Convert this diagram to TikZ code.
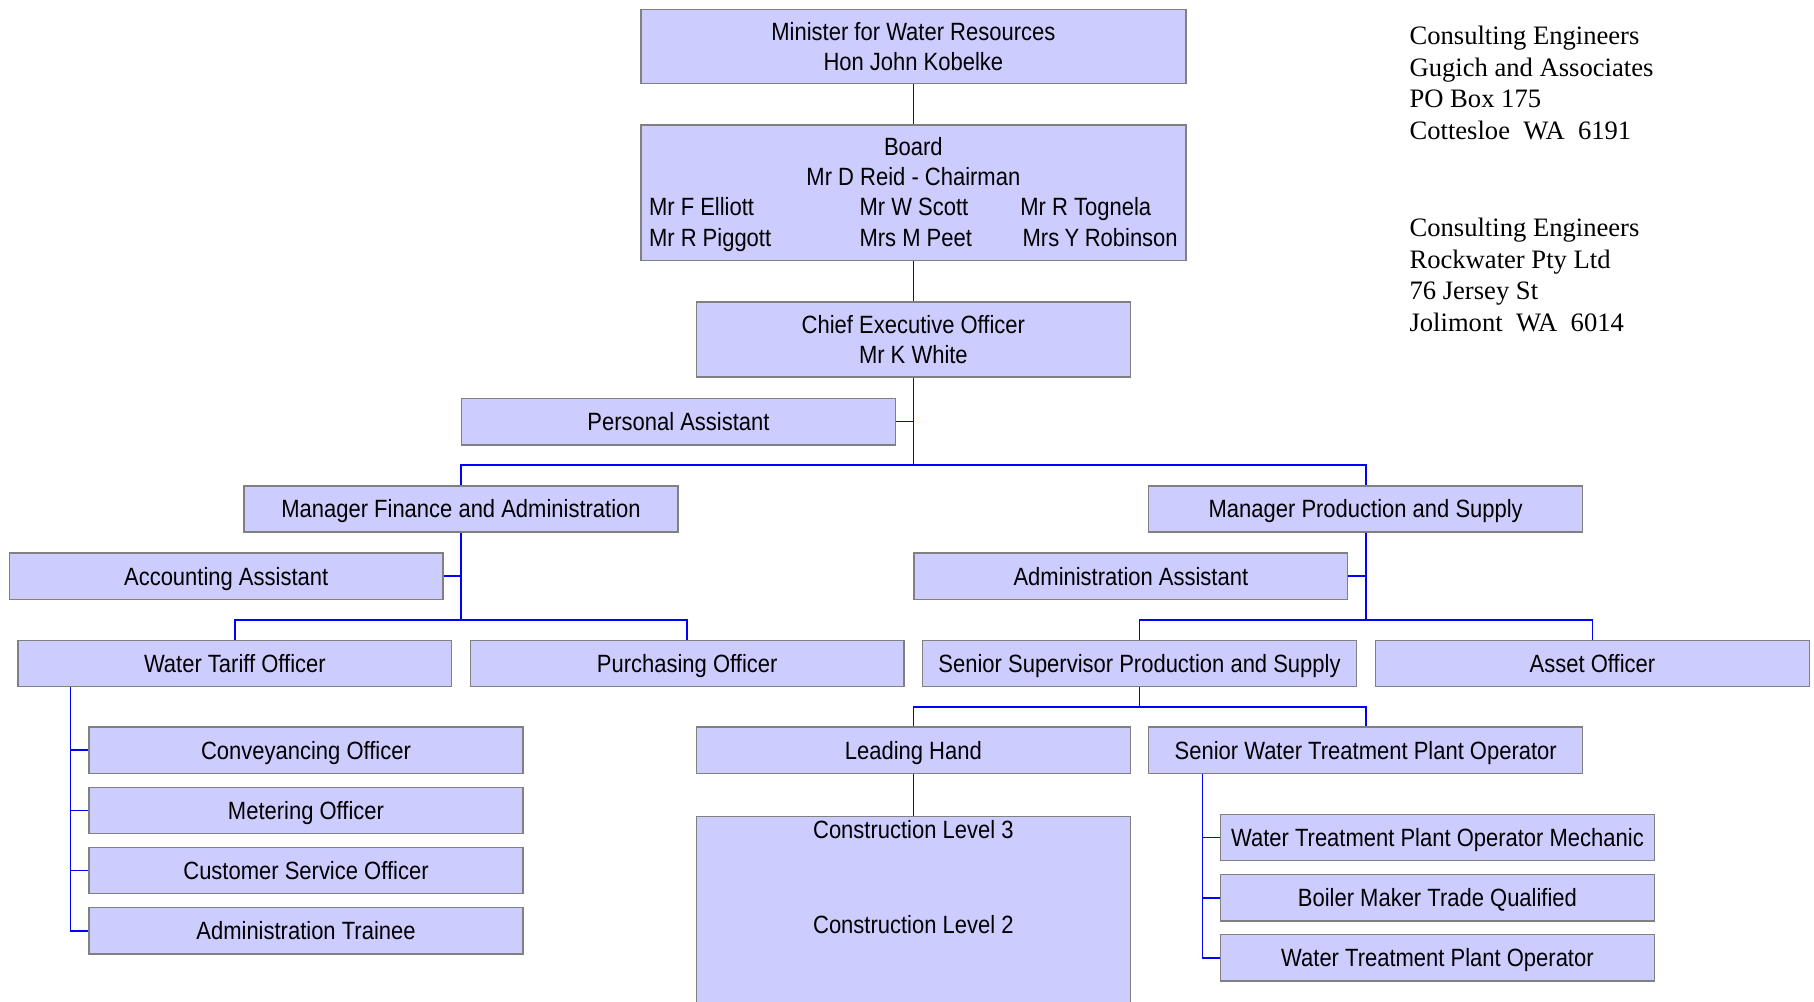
\documentclass[tikz,border=0pt]{standalone}
\usepackage{fontspec}
\setmainfont{Liberation Serif}
\newfontfamily\boxfont[FakeStretch=0.88]{Liberation Sans}
\definecolor{boxfill}{HTML}{CCCCFF}
\definecolor{boxline}{HTML}{808080}
\definecolor{linkblue}{HTML}{0000FF}
\begin{document}
\begin{tikzpicture}[x=0.5pt,y=-0.5pt,
		box/.style={draw=boxline,fill=boxfill,line width=0.6pt,inner sep=0pt,
			minimum width=187.5pt,minimum height=20pt,align=center,
			font=\boxfont\fontsize{10.8pt}{13pt}\selectfont},
		role/.style={box,text height=9pt,text depth=1.26pt},
		link/.style={draw=linkblue,line width=0.7pt},
		txt/.style={inner sep=0pt,text height=9pt,text depth=1.26pt,font=\boxfont\fontsize{10.8pt}{13pt}\selectfont},
		addr/.style={anchor=north west,inner sep=0pt,align=left,font=\fontsize{11.5pt}{13.7pt}\selectfont}]
			\useasboundingbox (0,0) rectangle (1568,866);
			\clip (0,0) rectangle (1568,866);

			\node[box,minimum width=235.5pt,minimum height=32pt] (minister) at (789.5, 40  ) {Minister for Water Resources\\Hon John Kobelke};
			\node[box,minimum width=235.5pt,minimum height=58.5pt] (board) at (789.5,166.5) {};
			\node[inner sep=0pt,font=\boxfont\fontsize{10.8pt}{13pt}\selectfont] (boardtxt) at (789.5,168.5) {%
				\begin{tabular}{@{}p{91pt}@{}p{69pt}@{}p{68.5pt}@{}}
					\multicolumn{3}{@{}c@{}}{Board}\\
					\multicolumn{3}{@{}c@{}}{Mr D Reid - Chairman}\\
					Mr F Elliott & Mr W Scott & \hspace{0.5pt}Mr R Tognela\\
					Mr R Piggott & Mrs M Peet & \hspace{1.5pt}Mrs Y Robinson
				\end{tabular}};
			\node[box,minimum height=32.5pt] (ceo) at (789.5,293.5) {Chief Executive Officer\\Mr K White};
			\node[role] (pa)      at ( 586.5,364.5) {Personal Assistant};
			\node[role] (mfa)     at ( 398.5,440  ) {Manager Finance and Administration};
			\node[role] (mps)     at (1180.5,440  ) {Manager Production and Supply};
			\node[role] (acc)     at ( 195.5,498  ) {Accounting Assistant};
			\node[role] (aa)      at ( 977.5,498  ) {Administration Assistant};
			\node[role] (wto)     at ( 203  ,573.5) {Water Tariff Officer};
			\node[role] (po)      at ( 594  ,573.5) {Purchasing Officer};
			\node[role] (ssps)    at ( 985  ,573.5) {Senior Supervisor Production and Supply};
			\node[role] (ao)      at (1376.5,573.5) {Asset Officer};
			\node[role] (lh)      at ( 789.5,648.5) {Leading Hand};
			\node[role] (swtpo)   at (1180.5,648.5) {Senior Water Treatment Plant Operator};
			\node[role] (conv)    at ( 264.5,648.5) {Conveyancing Officer};
			\node[role] (meter)   at ( 264.5,700.5) {Metering Officer};
			\node[role] (cust)    at ( 264.5,752.5) {Customer Service Officer};
			\node[role] (trainee) at ( 264.5,804.5) {Administration Trainee};
			\node[role] (mech)    at (1242.5,724  ) {Water Treatment Plant Operator Mechanic};
			\node[role] (boiler)  at (1242.5,776  ) {Boiler Maker Trade Qualified};
			\node[role] (wtpo)    at (1242.5,828  ) {Water Treatment Plant Operator};
			\node[box,minimum height=110pt,anchor=north] (constr) at (789.5,705) {};
			\node[txt] (lvl3) at (789.5,717) {Construction Level 3};
			\node[txt] (lvl2) at (789.5,799) {Construction Level 2};

			\node[addr] (gugich) at (1218, 22) {Consulting Engineers\\Gugich and Associates\\PO Box 175\\Cottesloe\ \ WA\ \ 6191};
			\node[addr] (rock)   at (1218,188) {Consulting Engineers\\Rockwater Pty Ltd\\76 Jersey St\\Jolimont\ \ WA\ \ 6014};

			\coordinate (j1) at ( 789.5,402);
			\coordinate (j2) at ( 398.5,536);
			\coordinate (j3) at (1180.5,536);
			\coordinate (j4) at ( 985  ,611);
			\coordinate (wtoleg) at ([xshift=23pt]wto.south west);
			\coordinate (swleg)  at ([xshift=23.5pt]swtpo.south west);

			\draw[link] (minister) -- (board);
			\draw[link] (board) -- (ceo);
			\draw[link] (ceo) -- (j1);
			\draw[link] (pa.east) -- (pa.east -| j1);
			\draw[link] (mfa.north) |- (j1) -| (mps.north);
			\draw[link] (mfa) -- (j2);
			\draw[link] (acc.east) -- (acc.east -| j2);
			\draw[link] (wto.north) |- (j2) -| (po.north);
			\draw[link] (mps) -- (j3);
			\draw[link] (aa.east) -- (aa.east -| j3);
			\draw[link] (ssps.north) |- (j3) -| (ao.north);
			\draw[link] (ssps) -- (j4);
			\draw[link] (lh.north) |- (j4) -| (swtpo.north);
			\draw[link] (lh) -- (constr);
			\foreach \n in {conv,meter,cust,trainee}
				\draw[link] (wtoleg) |- (\n.west);
			\foreach \n in {mech,boiler,wtpo}
				\draw[link] (swleg) |- (\n.west);
		\end{tikzpicture}
\end{document}
